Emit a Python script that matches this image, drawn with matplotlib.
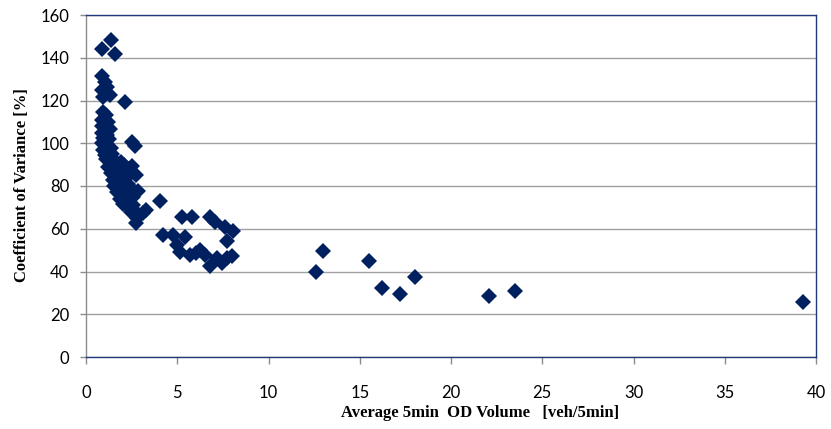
import matplotlib
matplotlib.use("Agg")
import matplotlib.pyplot as plt

# Data
x_vals = [
    0.86, 1.37, 1.59,
    0.86, 1.04, 1.13, 0.86, 1.32, 0.93, 2.14,
    0.95, 1.10, 0.85, 1.20, 0.90, 1.05, 1.30, 0.85, 1.15, 0.95, 1.25, 0.85,
    1.10, 1.35, 0.95, 1.20, 1.05, 1.40,
    1.10, 1.30, 1.55, 1.20, 1.45, 1.70, 1.90, 2.10, 1.35, 1.60, 1.85, 2.05,
    2.30, 1.50, 1.75, 2.00, 2.25,
    2.50, 2.70, 2.50, 2.75,
    1.55, 1.80, 2.05, 2.30, 1.70, 1.95, 2.20, 2.50, 2.85, 1.85, 2.10, 2.35, 2.60,
    2.05, 2.30, 2.55, 2.45, 2.70, 3.10, 3.30, 2.80, 2.75,
    4.05, 5.24, 5.79, 6.79, 7.07, 7.62, 8.05, 4.22, 4.77, 5.42, 7.70, 4.97,
    5.15, 5.70, 6.25, 6.52, 6.79, 7.16, 7.70, 7.98, 7.43, 6.00,
    12.6, 13.0, 15.5, 16.2, 17.2, 18.0, 22.1, 23.5, 39.3,
]
cov_vals = [
    143.9, 148.3, 141.8,
    131.5, 128.8, 126.3, 124.9, 122.6, 121.8, 119.4,
    114.5, 113.0, 111.0, 110.0, 108.0, 107.0, 106.5, 105.0, 104.0, 102.5, 102.0, 100.0,
    99.5, 98.0, 97.0, 96.0, 94.5, 95.0,
    92.5, 91.0, 92.0, 89.0, 88.0, 89.5, 91.0, 90.0, 86.0, 85.5, 86.5, 87.0,
    88.0, 83.0, 82.5, 83.5, 84.0,
    100.5, 98.5, 89.5, 85.0,
    80.0, 79.5, 80.5, 81.0, 77.0, 76.5, 77.5, 78.5, 77.5, 74.0, 73.5, 74.5, 75.0,
    71.5, 70.5, 71.0, 68.0, 68.5, 67.5, 69.0, 65.0, 62.5,
    73.0, 65.7, 65.7, 65.7, 63.3, 61.0, 59.0, 57.0, 57.0, 56.3, 54.2, 52.4,
    49.3, 47.7, 50.0, 47.7, 42.6, 46.2, 46.2, 47.2, 44.1, 48.5,
    40.0, 49.5, 44.8, 32.5, 29.5, 37.3, 28.5, 31.0, 25.5,
]
x_ticks = [0, 5, 10, 15, 20, 25, 30, 35, 40]
y_ticks = [0, 20, 40, 60, 80, 100, 120, 140, 160]
x_label = "Average 5min  OD Volume   [veh/5min]"
y_label = "Coefficient of Variance [%]"

fig = plt.figure(figsize=(8.31, 4.29), dpi=100)
ax = fig.add_axes([86 / 831, 1 - 357 / 429, (816 - 86) / 831, (357 - 15) / 429])

ax.plot(x_vals, cov_vals, linestyle="none", marker="D", markersize=8,
        color="#002060", markeredgewidth=0, zorder=3)

ax.set_xlim(0, 40)
ax.set_ylim(0, 160)
ax.set_xticks(x_ticks)
ax.set_yticks(y_ticks)
ax.yaxis.grid(True, color="#A0A0A0", linewidth=1.0, zorder=0)
ax.set_axisbelow(True)

for side in ["top", "right", "bottom"]:
    ax.spines[side].set_color("#1F3A7A")
    ax.spines[side].set_linewidth(1.0)
ax.spines["left"].set_color("#8C8C8C")
ax.spines["left"].set_linewidth(1.0)

ax.tick_params(axis="x", direction="out", length=5, width=1, color="#8C8C8C", pad=15)
ax.tick_params(axis="y", direction="out", length=4, width=1, color="#8C8C8C", pad=8)
for lbl in ax.get_xticklabels() + ax.get_yticklabels():
    lbl.set_fontfamily(["Lato", "DejaVu Sans"])
    lbl.set_fontsize(12)
    lbl.set_color("#000000")

label_font = dict(family=["Liberation Serif", "DejaVu Serif"], weight="bold", size=12)
fig.text(480 / 831, 1 - 413 / 429, x_label, ha="center", va="center", **label_font)
fig.text(22 / 831, 1 - 185 / 429, y_label, ha="center", va="center", rotation=90, **label_font)

fig.savefig("out.png", dpi=100)
